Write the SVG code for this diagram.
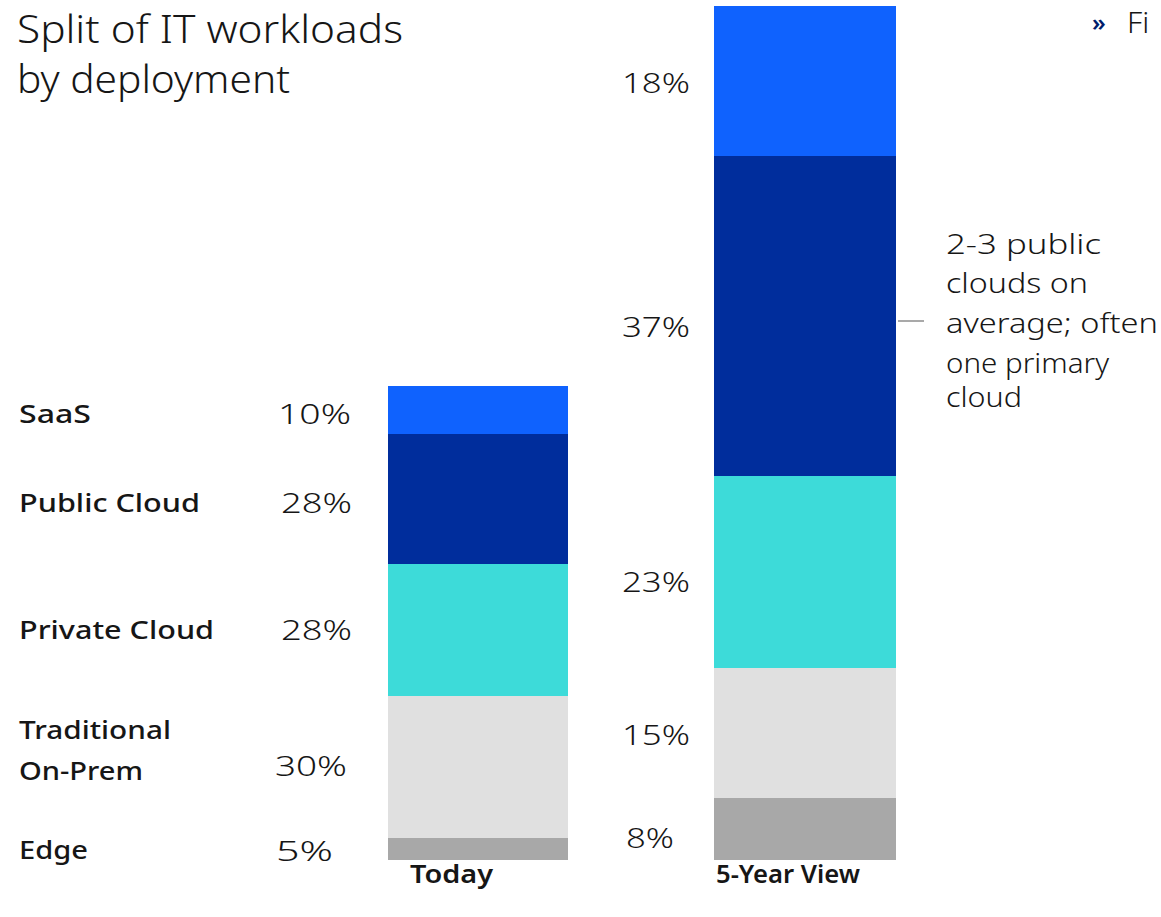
<svg xmlns="http://www.w3.org/2000/svg" width="1161" height="917" viewBox="0 0 1161 917">
<style>
.t{font-family:"Noto Sans","Liberation Sans",sans-serif;fill:#161616}
.title{font-size:38px;font-weight:300}
.lab{font-size:26px;font-weight:500}
.pct{font-size:28px;font-weight:300}
.ann{font-size:27px;font-weight:300}
.saas{fill:#0f62fe}.pub{fill:#002d9c}.priv{fill:#3ddbd9}.trad{fill:#e0e0e0}.edge{fill:#a8a8a8}
</style>
<rect width="1161" height="917" fill="#ffffff"/>
<g id="title">
<text class="t title" x="17" y="43" textLength="386" lengthAdjust="spacingAndGlyphs">Split of IT workloads</text>
<text class="t title" x="17" y="93" textLength="273" lengthAdjust="spacingAndGlyphs">by deployment</text>
</g>
<g id="nav">
<text class="t" x="1092" y="31" style="font-size:24px;fill:#001d6c;font-weight:600">»</text>
<text class="t" x="1127" y="33" style="font-size:30px;font-weight:300">Fi</text>
</g>
<g id="legend">
<text class="t lab" x="19" y="423" textLength="72" lengthAdjust="spacingAndGlyphs">SaaS</text>
<text class="t lab" x="19" y="512" textLength="181" lengthAdjust="spacingAndGlyphs">Public Cloud</text>
<text class="t lab" x="19" y="639" textLength="195" lengthAdjust="spacingAndGlyphs">Private Cloud</text>
<text class="t lab" x="19" y="739" textLength="152" lengthAdjust="spacingAndGlyphs">Traditional</text>
<text class="t lab" x="19" y="780" textLength="124" lengthAdjust="spacingAndGlyphs">On-Prem</text>
<text class="t lab" x="19" y="859" textLength="69" lengthAdjust="spacingAndGlyphs">Edge</text>
</g>
<g id="today">
<rect class="saas" x="388" y="386" width="180" height="48"/>
<rect class="pub" x="388" y="434" width="180" height="130"/>
<rect class="priv" x="388" y="564" width="180" height="132"/>
<rect class="trad" x="388" y="696" width="180" height="142"/>
<rect class="edge" x="388" y="838" width="180" height="22"/>
<text class="t pct" x="278" y="424" textLength="73" lengthAdjust="spacingAndGlyphs">10%</text>
<text class="t pct" x="281" y="513" textLength="71" lengthAdjust="spacingAndGlyphs">28%</text>
<text class="t pct" x="281" y="640" textLength="71" lengthAdjust="spacingAndGlyphs">28%</text>
<text class="t pct" x="275" y="776" textLength="72" lengthAdjust="spacingAndGlyphs">30%</text>
<text class="t pct" x="276" y="861" textLength="57" lengthAdjust="spacingAndGlyphs">5%</text>
<text class="t lab" x="410" y="883" textLength="83" lengthAdjust="spacingAndGlyphs" style="font-weight:600">Today</text>
</g>
<g id="five-year">
<rect class="saas" x="714" y="6" width="182" height="150"/>
<rect class="pub" x="714" y="156" width="182" height="320"/>
<rect class="priv" x="714" y="476" width="182" height="192"/>
<rect class="trad" x="714" y="668" width="182" height="130"/>
<rect class="edge" x="714" y="798" width="182" height="62"/>
<text class="t pct" x="622" y="93" textLength="68" lengthAdjust="spacingAndGlyphs">18%</text>
<text class="t pct" x="622" y="337" textLength="68" lengthAdjust="spacingAndGlyphs">37%</text>
<text class="t pct" x="622" y="592" textLength="68" lengthAdjust="spacingAndGlyphs">23%</text>
<text class="t pct" x="622" y="745" textLength="68" lengthAdjust="spacingAndGlyphs">15%</text>
<text class="t pct" x="626" y="848" textLength="48" lengthAdjust="spacingAndGlyphs">8%</text>
<text class="t lab" x="716" y="883" textLength="144" lengthAdjust="spacingAndGlyphs" style="font-weight:600">5-Year View</text>
</g>
<g id="connectors">
<line x1="898" y1="321" x2="924" y2="321" stroke="#8d8d8d" stroke-width="1.5"/>
</g>
<g id="annotation">
<text class="t ann" x="946" y="254" textLength="155" lengthAdjust="spacingAndGlyphs">2-3 public</text>
<text class="t ann" x="946" y="293" textLength="142" lengthAdjust="spacingAndGlyphs">clouds on</text>
<text class="t ann" x="946" y="333" textLength="212" lengthAdjust="spacingAndGlyphs">average; often</text>
<text class="t ann" x="946" y="373" textLength="163" lengthAdjust="spacingAndGlyphs">one primary</text>
<text class="t ann" x="946" y="407" textLength="76" lengthAdjust="spacingAndGlyphs">cloud</text>
</g>
</svg>
